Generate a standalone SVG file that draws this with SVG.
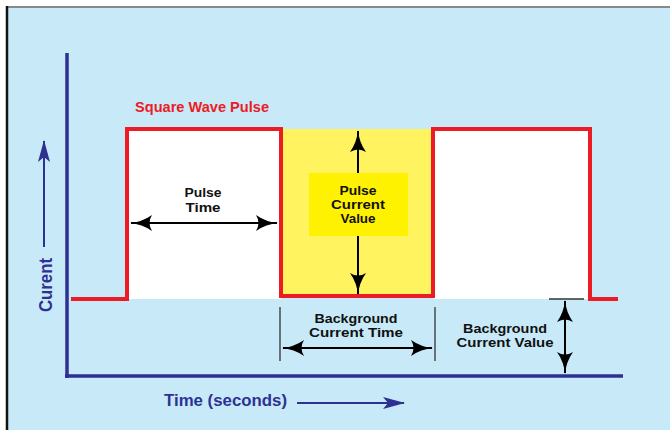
<svg xmlns="http://www.w3.org/2000/svg" width="670" height="430" viewBox="0 0 670 430">
<style>
.lbl{font-family:"Liberation Sans",Arial,sans-serif;font-weight:bold;fill:#111;text-anchor:middle;font-size:12.5px}
.blue{font-family:"Liberation Sans",Arial,sans-serif;font-weight:bold;fill:#2E3192}
.blk{stroke:#000;stroke-width:2;fill:none}
.tick{stroke:#333;stroke-width:1.3}
</style>
<defs>
<marker id="ah" viewBox="0 0 22 16" refX="21" refY="8" markerWidth="22" markerHeight="16" markerUnits="userSpaceOnUse" orient="auto-start-reverse">
<path d="M22,8 Q10,9 0,16 Q5,8 0,0 Q10,7 22,8 Z" fill="#000"/>
</marker>
<marker id="bh" viewBox="0 0 22 12" refX="21" refY="6" markerWidth="22" markerHeight="12" markerUnits="userSpaceOnUse" orient="auto">
<path d="M22,6 L0,12 L5,6 L0,0 Z" fill="#2E3192"/>
</marker>
</defs>
<rect x="0" y="0" width="670" height="430" fill="#fff"/>
<rect x="7" y="7" width="670" height="430" fill="#C7E9F8"/>
<line x1="6" y1="7" x2="670" y2="7" stroke="#888" stroke-width="2"/>
<line x1="7" y1="6" x2="7" y2="430" stroke="#111" stroke-width="2.5"/>

<g id="axes">
<line x1="67" y1="53" x2="67" y2="378" stroke="#2E3192" stroke-width="3.5"/>
<line x1="65" y1="376" x2="623" y2="376" stroke="#2E3192" stroke-width="3.5"/>
</g>

<g id="waveform">
<rect x="127" y="129" width="154" height="170" fill="#fff"/>
<rect x="433" y="129" width="157" height="170" fill="#fff"/>
<rect x="281" y="129" width="152" height="167" fill="#FFF35F"/>
<path d="M71,299 H127 V129 H281 V296 H433 V129 H590 V299 H618" fill="none" stroke="#ED1C24" stroke-width="4"/>
<text x="135" y="112" font-family="Liberation Sans,Arial,sans-serif" font-weight="bold" font-size="15" fill="#ED1C24" textLength="134" lengthAdjust="spacingAndGlyphs">Square Wave Pulse</text>
</g>

<g id="pulse-time">
<text class="lbl" x="203" y="197" textLength="37" lengthAdjust="spacingAndGlyphs">Pulse</text>
<text class="lbl" x="203" y="212" textLength="35" lengthAdjust="spacingAndGlyphs">Time</text>
</g>

<g id="pulse-current-value">
<rect x="309" y="173" width="99" height="63" fill="#FFF200"/>
<text class="lbl" x="358" y="195" textLength="37" lengthAdjust="spacingAndGlyphs">Pulse</text>
<text class="lbl" x="358" y="209" textLength="54" lengthAdjust="spacingAndGlyphs">Current</text>
<text class="lbl" x="358" y="223" textLength="35" lengthAdjust="spacingAndGlyphs">Value</text>
</g>

<g id="background-current-time">
<line class="tick" x1="280" y1="307" x2="280" y2="361"/>
<line class="tick" x1="435" y1="307" x2="435" y2="361"/>
<text class="lbl" x="356" y="323" textLength="83" lengthAdjust="spacingAndGlyphs">Background</text>
<text class="lbl" x="356" y="337" textLength="94" lengthAdjust="spacingAndGlyphs">Current Time</text>
</g>

<g id="background-current-value">
<line class="tick" x1="549" y1="299" x2="584" y2="299"/>
<text class="lbl" x="505" y="333" textLength="84" lengthAdjust="spacingAndGlyphs">Background</text>
<text class="lbl" x="505" y="347" textLength="97" lengthAdjust="spacingAndGlyphs">Current Value</text>
</g>

<g id="axis-labels">
<text class="blue" font-size="17" x="164" y="406" textLength="123" lengthAdjust="spacingAndGlyphs">Time (seconds)</text>
<text class="blue" font-size="18" transform="translate(52,312) rotate(-90)" textLength="54" lengthAdjust="spacingAndGlyphs">Curent</text>
</g>

<g id="connectors">
<line class="blk" x1="131" y1="223" x2="277" y2="223" marker-start="url(#ah)" marker-end="url(#ah)"/>
<line class="blk" x1="358" y1="173" x2="358" y2="131" marker-end="url(#ah)"/>
<line class="blk" x1="358" y1="236" x2="358" y2="294" marker-end="url(#ah)"/>
<line class="blk" x1="283" y1="348" x2="432" y2="348" marker-start="url(#ah)" marker-end="url(#ah)"/>
<line class="blk" x1="565" y1="301" x2="565" y2="373" marker-start="url(#ah)" marker-end="url(#ah)"/>
<line x1="297" y1="403" x2="404" y2="403" stroke="#2E3192" stroke-width="2" marker-end="url(#bh)"/>
<line x1="44" y1="247" x2="44" y2="141" stroke="#2E3192" stroke-width="2" marker-end="url(#bh)"/>
</g>
</svg>
